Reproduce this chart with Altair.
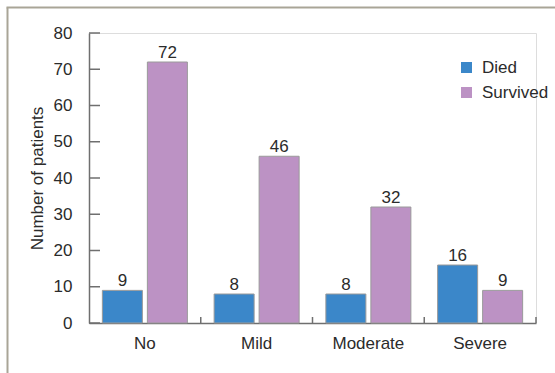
import altair as alt
import pandas as pd

categories = ["No", "Mild", "Moderate", "Severe"]
died = [9, 8, 8, 16]
survived = [72, 46, 32, 9]
groups = ["Died", "Survived"]
y_ticks = [0, 10, 20, 30, 40, 50, 60, 70, 80]

rows = []
for c, d, s in zip(categories, died, survived):
    rows.append({"cat": c, "group": "Died", "n": d})
    rows.append({"cat": c, "group": "Survived", "n": s})
df = pd.DataFrame(rows)
tick_df = pd.DataFrame({"n": y_ticks})
cat_df = pd.DataFrame({"cat": categories})
one = pd.DataFrame({"a": [0]})

FONT = "Liberation Sans"
FS = 17
TXT = "#2b2b2b"
AX = "#6f6f6f"

xscale = alt.Scale(domain=categories, paddingInner=0, paddingOuter=0)
yscale = alt.Scale(domain=[0, 80], nice=False)
oscale = alt.Scale(domain=groups, paddingInner=0.111, paddingOuter=0.297)
cscale = alt.Scale(domain=groups, range=["#3b87c9", "#bc92c4"])

x_axis = alt.Axis(title=None, ticks=False, tickSize=0, labelPadding=12,
                  labelFontSize=FS, labelFont=FONT, labelColor=TXT,
                  labelOverlap=False,
                  domainColor=AX, domainWidth=1.5, labelAngle=0)
y_axis = alt.Axis(title="Number of patients", values=y_ticks, ticks=False, tickSize=0,
                  labelPadding=17, labelFontSize=FS, labelFont=FONT, labelColor=TXT,
                  labelOverlap=False,
                  titleFont=FONT, titleFontSize=FS, titleColor=TXT,
                  titleFontWeight="normal", titlePadding=7,
                  domainColor=AX, domainWidth=1.5, grid=False)

bars = alt.Chart(df).mark_bar(stroke="#9a9a9a", strokeWidth=1).encode(
    x=alt.X("cat:N", scale=xscale, sort=categories, axis=x_axis),
    y=alt.Y("n:Q", scale=yscale, axis=y_axis),
    xOffset=alt.XOffset("group:N", scale=oscale),
    color=alt.Color("group:N", scale=cscale,
                    legend=alt.Legend(title=None, orient="none", legendX=369, legendY=26,
                                      symbolType="square", symbolSize=121, symbolStrokeWidth=0,
                                      labelFont=FONT, labelFontSize=FS, labelColor=TXT,
                                      labelOffset=7, rowPadding=7, padding=0)),
)

labels = alt.Chart(df).mark_text(font=FONT, fontSize=FS, color=TXT, baseline="alphabetic", dy=-4).encode(
    x=alt.X("cat:N", scale=xscale, sort=categories, axis=x_axis),
    y=alt.Y("n:Q", scale=yscale, axis=y_axis),
    xOffset=alt.XOffset("group:N", scale=oscale),
    text="n:Q",
)

yticks = alt.Chart(tick_df).mark_rule(color=AX, strokeWidth=1.5).encode(
    y=alt.Y("n:Q", scale=yscale, axis=y_axis),
    x=alt.value(0),
    x2=alt.value(11),
)

xticks = alt.Chart(cat_df).mark_rule(color=AX, strokeWidth=1.5).encode(
    x=alt.X("cat:N", scale=xscale, sort=categories, bandPosition=1, axis=x_axis),
    y=alt.value(284),
    y2=alt.value(290),
)

frame_left = alt.Chart(one).mark_rule(color="#a9a597", strokeWidth=2).encode(
    x=alt.value(-81.5), y=alt.value(-25.5), y2=alt.value(345),
)
frame_top = alt.Chart(one).mark_rule(color="#a9a597", strokeWidth=2).encode(
    x=alt.value(-82.5), x2=alt.value(470), y=alt.value(-25.5),
)

chart = alt.layer(frame_left, frame_top, bars, labels, yticks, xticks).properties(
    width=447, height=290,
    autosize=alt.AutoSizeParams(type="none"),
    padding={"left": 89, "top": 33, "right": 19, "bottom": 50},
).configure_view(stroke=None).configure(background="white")

chart.save("out.html", embed_options={"renderer": "svg", "actions": False})
